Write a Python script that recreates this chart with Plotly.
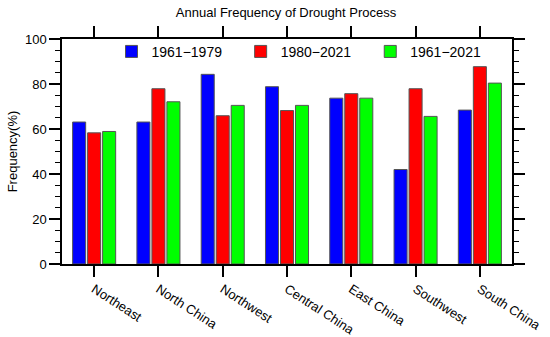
import plotly.graph_objects as go

categories = ["Northeast", "North China", "Northwest", "Central China", "East China", "Southwest", "South China"]
s1_name = "1961−1979"
s2_name = "1980−2021"
s3_name = "1961−2021"
s1 = [63.1, 63.1, 84.3, 78.8, 73.7, 42.0, 68.4]
s2 = [58.3, 77.9, 65.9, 68.2, 75.7, 77.9, 87.7]
s3 = [58.9, 72.1, 70.5, 70.5, 73.7, 65.6, 80.4]
colors = ["#0000FF", "#FF0000", "#00FF00"]
y_ticks = [0, 20, 40, 60, 80, 100]

font_family = "Liberation Sans, Arial, Helvetica, sans-serif"

fig = go.Figure()
legend_ids = ["legend", "legend2", "legend3"]
for name, vals, col, lg in [(s1_name, s1, colors[0], legend_ids[0]),
                            (s2_name, s2, colors[1], legend_ids[1]),
                            (s3_name, s3, colors[2], legend_ids[2])]:
    fig.add_trace(go.Bar(
        x=categories, y=vals, name=name, legend=lg,
        marker=dict(color=col, line=dict(color="#555555", width=1)),
    ))

def leg(xpos):
    return dict(orientation="h", x=xpos, xanchor="left", y=0.943, yanchor="middle",
                bgcolor="rgba(0,0,0,0)", font=dict(size=14), itemwidth=30,
                borderwidth=0)

fig.update_layout(
    width=550, height=337,
    margin=dict(l=62, r=38, t=39, b=73),
    paper_bgcolor="white", plot_bgcolor="white",
    barmode="group", bargap=0.3, bargroupgap=0.13,
    font=dict(family=font_family, size=13, color="black"),
    title=dict(text="Annual Frequency of Drought Process", x=0.52, xanchor="center",
               y=0.962, yanchor="middle", font=dict(size=13)),
    showlegend=True,
    legend=leg(0.11),
    legend2=leg(0.397),
    legend3=leg(0.685),
    xaxis=dict(
        type="category", range=[-0.5, 6.5], automargin=False,
        showline=True, linecolor="black", linewidth=1.5, mirror="ticks",
        ticks="outside", ticklen=11, tickwidth=1.5, tickcolor="black",
        tickangle=33, tickfont=dict(size=13), showgrid=False, zeroline=False,
    ),
    yaxis=dict(
        range=[0, 100], tickvals=y_ticks, automargin=False,
        showline=True, linecolor="black", linewidth=1.5, mirror="ticks",
        ticks="outside", ticklen=11, tickwidth=1.5, tickcolor="black",
        minor=dict(dtick=5, ticks="outside", ticklen=5, tickwidth=1, tickcolor="black", showgrid=False),
        showgrid=False, zeroline=False, tickfont=dict(size=13),
        title=dict(text="Frequency(%)", font=dict(size=13), standoff=4),
    ),
)

fig.write_html("out.html",
               config={"displayModeBar": False},
               post_script="document.body.style.margin='0px';document.body.style.overflow='hidden';")
